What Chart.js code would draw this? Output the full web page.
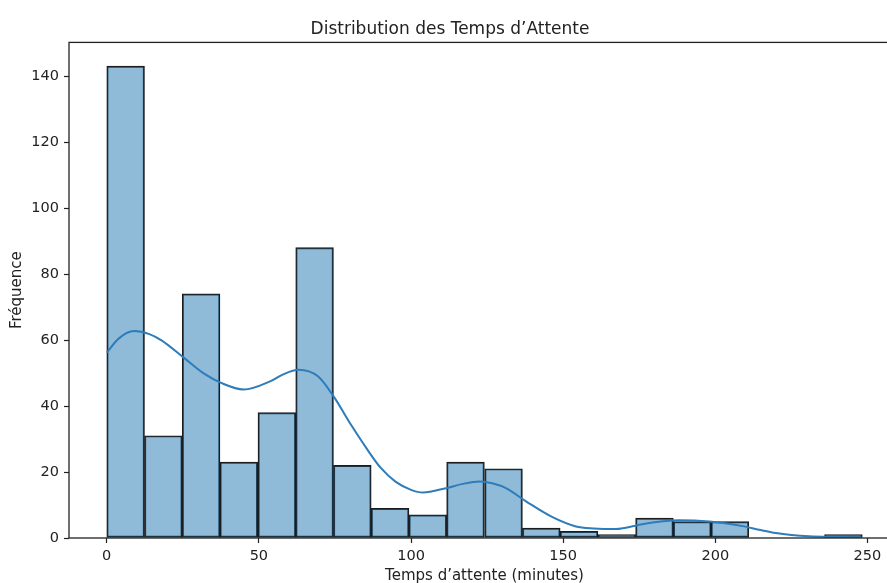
<!DOCTYPE html>
<html>
<head>
<meta charset="utf-8">
<script src="https://cdn.jsdelivr.net/npm/chart.js@4/dist/chart.umd.min.js"></script>
<style>
  html, body { margin: 0; padding: 0; background: #fff; }
  #wrap { width: 887px; height: 583px; overflow: hidden; position: relative; }
  #chart { display: block; }
</style>
</head>
<body>
<div id="wrap"><canvas id="chart" width="969" height="600"></canvas></div>
<script>
// histogram bins (left edges) and counts
const binStarts = [0, 12.4, 24.8, 37.2, 49.7, 62.1, 74.5, 86.9, 99.3, 111.7,
                   124.2, 136.6, 149.0, 161.4, 173.8, 186.2, 198.6, 211.1, 223.5, 235.9];
const binWidth = 12.42;
const counts = [143, 31, 74, 23, 38, 88, 22, 9, 7, 23, 21, 3, 2, 1, 6, 5, 5, 0, 0, 1];

// kde curve
const kdeX = [0, 4, 9, 14, 18, 25, 32, 37.6, 45, 54, 58, 63, 69.4, 74.5, 80.5, 85.5, 90, 95,
              100, 103.9, 111.5, 117, 122.5, 127, 131.2, 137.8, 146.5, 154.2, 160, 167.3, 176, 182,
              188, 198, 208.9, 214.4, 219.9, 225, 230.8, 240, 248];
const kdeY = [56.2, 60.5, 62.7, 61.8, 59.9, 54.9, 49.8, 47.0, 45.0, 47.6, 49.6, 51.0, 49.0, 43.0,
              34.0, 27.0, 21.3, 17.0, 14.6, 13.8, 15.1, 16.4, 17.1, 16.5, 15.1, 11.1, 6.3, 3.5, 2.9,
              2.7, 4.2, 5.0, 5.4, 5.0, 3.6, 2.5, 1.5, 0.9, 0.5, 0.3, 0.2];

const xTicks = [0, 50, 100, 150, 200, 250];
const yTicks = [0, 20, 40, 60, 80, 100, 120, 140];

const barData = counts.map((c, i) => ({ x: binStarts[i] + binWidth / 2, y: c }));
const kdeData = kdeX.map((x, i) => ({ x: x, y: kdeY[i] }));

Chart.defaults.font.family = "'DejaVu Sans', sans-serif";
Chart.defaults.font.size = 14.5;
Chart.defaults.color = '#222';

const framePlugin = {
  id: 'frame',
  afterDatasetsDraw(chart) {
    const { ctx, chartArea } = chart;
    ctx.save();
    ctx.strokeStyle = '#222';
    ctx.lineWidth = 1.3;
    ctx.strokeRect(chartArea.left, chartArea.top, chartArea.right - chartArea.left, chartArea.bottom - chartArea.top);
    ctx.restore();
  }
};

new Chart(document.getElementById('chart'), {
  type: 'bar',
  data: {
    datasets: [
      {
        type: 'line',
        data: kdeData,
        borderColor: '#2e7cba',
        borderWidth: 2,
        pointRadius: 0,
        fill: false,
        cubicInterpolationMode: 'monotone',
        order: 0
      },
      {
        type: 'bar',
        data: barData,
        backgroundColor: 'rgba(31,119,180,0.5)',
        borderColor: '#1c1c1c',
        borderWidth: 1.3,
        borderSkipped: false,
        barPercentage: 1,
        categoryPercentage: 1,
        grouped: false,
        order: 1
      }
    ]
  },
  plugins: [framePlugin],
  options: {
    responsive: false,
    animation: false,
    layout: { padding: { left: 0, right: 69, top: 0, bottom: 0 } },
    plugins: {
      legend: { display: false },
      tooltip: { enabled: false },
      title: {
        display: true,
        text: 'Distribution des Temps d\u2019Attente',
        color: '#222',
        font: { size: 17, weight: 'normal' },
        padding: { top: 19, bottom: 3 }
      }
    },
    scales: {
      x: {
        type: 'linear',
        min: -12.4,
        max: 260.7,
        offset: false,
        afterFit: s => { s.height = 62; },
        afterBuildTicks: s => { s.ticks = xTicks.map(v => ({ value: v })); },
        grid: { offset: false, drawOnChartArea: false, drawTicks: true, tickLength: 5, tickColor: '#222', tickWidth: 1.2 },
        border: { display: false },
        ticks: { padding: 5, maxRotation: 0, color: '#222' },
        title: {
          display: true,
          text: 'Temps d\u2019attente (minutes)',
          font: { size: 15 },
          color: '#222',
          padding: { top: 0, bottom: 15 }
        }
      },
      y: {
        min: 0,
        max: 150.2,
        afterFit: s => { s.width = 69; },
        afterBuildTicks: s => { s.ticks = yTicks.map(v => ({ value: v })); },
        grid: { offset: false, drawOnChartArea: false, drawTicks: true, tickLength: 5, tickColor: '#222', tickWidth: 1.2 },
        border: { display: false },
        ticks: { padding: 5, color: '#222' },
        title: {
          display: true,
          text: 'Fr\u00e9quence',
          font: { size: 15 },
          color: '#222',
          padding: { top: 8, bottom: 0 }
        }
      }
    }
  }
});
</script>
</body>
</html>
